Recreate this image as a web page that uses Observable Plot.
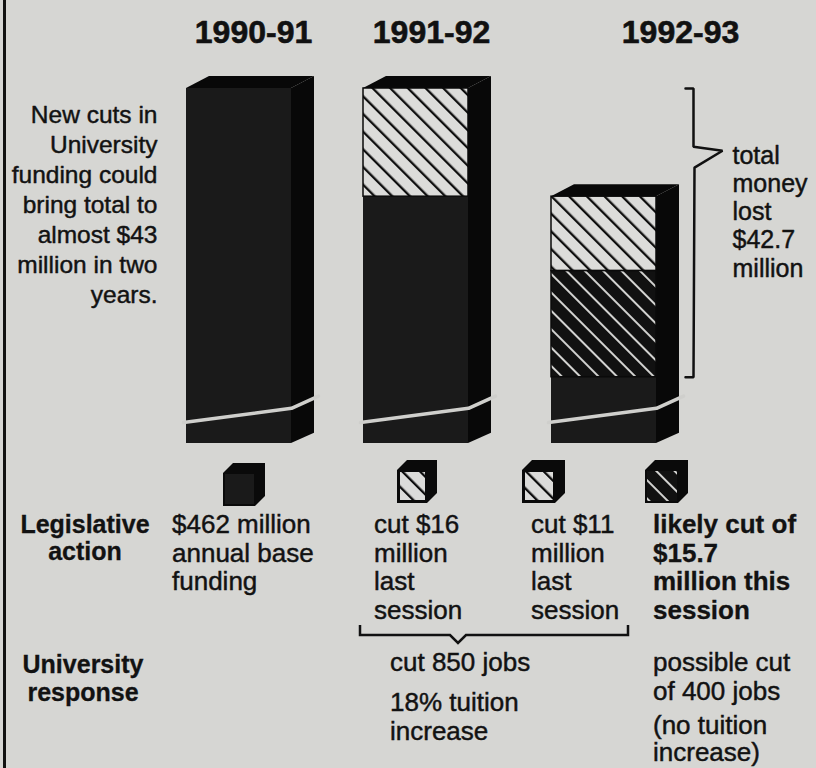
<!DOCTYPE html>
<html><head><meta charset="utf-8">
<script src="https://cdn.jsdelivr.net/npm/d3@7"></script>
<script src="https://cdn.jsdelivr.net/npm/@observablehq/plot@0.6"></script>
<style>
html,body{margin:0;padding:0;background:#d6d6d3;}
#page{position:relative;width:816px;height:768px;overflow:hidden;background:#d6d6d3;font-family:"Liberation Sans",Arial,Helvetica,sans-serif;color:#121212;}
#border{position:absolute;left:3px;top:0;width:3px;height:768px;background:#111;}
#chart{position:absolute;left:0;top:0;}
#overlay{position:absolute;left:0;top:0;}
.t{position:absolute;white-space:pre;font-size:26px;line-height:28.5px;-webkit-text-stroke:0.45px #121212;}
.b{font-weight:bold;-webkit-text-stroke:0.3px #121212;}
</style></head><body>
<div id="page"><div id="border"></div><div id="chart"></div></div>
<script>
// ---------- data ----------
const years = ["1990-91", "1991-92", "1992-93"];
const fundingBefore = [462, 462, 446];      // $ million, level before the cuts shown in the bar
const cutLastSession = [0, 16, 11];         // $ million cut last session
const cutLikely = [0, 0, 15.7];             // $ million likely cut this session
const totalLost = 42.7;                     // $ million
const noteLines = ["New cuts in", "University", "funding could", "bring total to", "almost $43", "million in two", "years."];
const braceLines = ["total", "money", "lost", "$42.7", "million"];
const rowLabels = ["Legislative\naction", "University\nresponse"];
const legendKinds = ["base", "last", "last", "likely"];
const legendText = ["$462 million\nannual base\nfunding", "cut $16\nmillion\nlast\nsession", "cut $11\nmillion\nlast\nsession", "likely cut of\n$15.7\nmillion this\nsession"];
const responseText = ["cut 850 jobs", "18% tuition\nincrease", "possible cut\nof 400 jobs", "(no tuition\nincrease)"];

// ---------- layout ----------
const FONT = "Liberation Sans, Arial, Helvetica, sans-serif";
const yDomain = [409.5, 462];
const yRange = [443, 88];
const k = (yRange[0] - yRange[1]) / (yDomain[1] - yDomain[0]);
const depthX = 23, depthY = 12 / k;
const barLeft = [186, 363, 551], barW = 105;
const headerX = [253, 431, 680];
const yLo = yDomain[0];

const bars = years.map((yr, i) => ({yr, i, left: barLeft[i], right: barLeft[i] + barW, top: fundingBefore[i],
  remaining: fundingBefore[i] - cutLastSession[i] - cutLikely[i]}));
const segments = [];
bars.forEach(b => {
  segments.push({...b, kind: "base", y1: yLo, y2: b.remaining});
  if (cutLikely[b.i] > 0) segments.push({...b, kind: "likely", y1: b.remaining, y2: b.remaining + cutLikely[b.i]});
  if (cutLastSession[b.i] > 0) segments.push({...b, kind: "last", y1: b.remaining + cutLikely[b.i], y2: b.top});
});
const sidePts = bars.flatMap(b => [
  {i: b.i, x: b.right, y1: yLo, y2: b.top},
  {i: b.i, x: b.right + depthX, y1: yLo + depthY * 0.85, y2: b.top + depthY}]);
const topPts = bars.flatMap(b => [
  {i: b.i, y: b.top, x1: b.left, x2: b.right},
  {i: b.i, y: b.top + depthY, x1: b.left + depthX, x2: b.right + depthX}]);
const breakPts = bars.flatMap(b => [
  {i: b.i, x: b.left - 3, y: yLo + 3.1},
  {i: b.i, x: b.right, y: yLo + 5.2},
  {i: b.i, x: b.right + depthX + 4, y: yLo + 7.0}]);
const bTop = fundingBefore[0], bBot = fundingBefore[0] - totalLost;
const bracePts = [
  {x: 685, y: bTop}, {x: 693, y: bTop}, {x: 693, y: bTop - 8.6}, {x: 722, y: bTop - 9.2},
  {x: 694, y: bTop - 11.7}, {x: 693, y: bBot}, {x: 685, y: bBot}];

function addPatterns(defs, prefix) {
  const p1 = defs.append("pattern").attr("id", prefix + "Light").attr("patternUnits", "userSpaceOnUse")
    .attr("width", 12.5).attr("height", 12.5).attr("patternTransform", "rotate(-45)");
  p1.append("rect").attr("width", 12.5).attr("height", 12.5).attr("fill", "#dcdcda");
  p1.append("rect").attr("width", 2.3).attr("height", 12.5).attr("fill", "#0d0d0d");
  const p2 = defs.append("pattern").attr("id", prefix + "Dark").attr("patternUnits", "userSpaceOnUse")
    .attr("width", 13).attr("height", 13).attr("patternTransform", "rotate(-45)");
  p2.append("rect").attr("width", 13).attr("height", 13).attr("fill", "#111");
  p2.append("rect").attr("width", 2).attr("height", 13).attr("fill", "#d2d2d0");
}

const chart = Plot.plot({
  width: 816, height: 460, margin: 0,
  style: {background: "transparent", overflow: "visible"},
  x: {domain: [0, 816], range: [0, 816], axis: null},
  y: {domain: yDomain, range: yRange, axis: null},
  marks: [
    () => { const d = d3.create("svg:defs"); addPatterns(d, "hatch"); return d.node(); },
    Plot.areaY(sidePts, {x: "x", y1: "y1", y2: "y2", z: "i", fill: "#080808"}),
    Plot.areaX(topPts, {y: "y", x1: "x1", x2: "x2", z: "i", fill: "#080808"}),
    Plot.rect(segments.filter(s => s.kind === "base"), {x1: "left", x2: "right", y1: "y1", y2: "y2", fill: "#1a1a1a"}),
    Plot.rect(segments.filter(s => s.kind === "last"), {x1: "left", x2: "right", y1: "y1", y2: "y2", fill: "url(#hatchLight)", stroke: "#0a0a0a", strokeWidth: 1.5}),
    Plot.rect(segments.filter(s => s.kind === "likely"), {x1: "left", x2: "right", y1: "y1", y2: "y2", fill: "url(#hatchDark)", stroke: "#0a0a0a", strokeWidth: 1.5}),
    Plot.line(breakPts, {x: "x", y: "y", z: "i", stroke: "#cfcfcc", strokeWidth: 3.5}),
    Plot.line(bracePts, {x: "x", y: "y", stroke: "#111", strokeWidth: 2.5, strokeLinejoin: "miter"}),
    Plot.text(years, {x: (d, i) => headerX[i], text: d => d, frameAnchor: "top", lineAnchor: "top", dy: 20,
      fontSize: 32, fontWeight: "bold", fontFamily: FONT, fill: "#111", stroke: "#111", strokeWidth: 0.6}),
    Plot.text([noteLines.join("\n")], {x: () => 157, text: d => d, frameAnchor: "top", lineAnchor: "top", dy: 101,
      textAnchor: "end", fontSize: 24.5, lineHeight: 30 / 24.5, fontFamily: FONT, fill: "#121212", stroke: "#121212", strokeWidth: 0.45}),
    Plot.text([braceLines.join("\n")], {x: () => 732, text: d => d, frameAnchor: "top", lineAnchor: "top", dy: 143,
      textAnchor: "start", fontSize: 25, lineHeight: 28.25 / 25, fontFamily: FONT, fill: "#121212", stroke: "#121212", strokeWidth: 0.45})
  ]
});
document.getElementById("chart").appendChild(chart);

// ---------- lower panel: legend keys, labels ----------
const page = d3.select("#page");
const ov = page.append("svg").attr("id", "overlay").attr("width", 816).attr("height", 768);
addPatterns(ov.append("defs"), "key");
const iconBoxes = [[223, 463, 42, 43], [397, 460, 40, 43], [522, 460, 43, 43], [645, 460, 43, 43]];
legendKinds.forEach((kind, i) => {
  const [x0, y0, w, h] = iconBoxes[i], c = 10, x1 = x0 + w, y1 = y0 + h;
  ov.append("polygon").attr("points", [[x0 + c, y0], [x1, y0], [x1, y1 - c], [x1 - c, y1], [x0, y1], [x0, y0 + c]].join(" "))
    .attr("fill", "#0a0a0a");
  const fx = x0 + 2, fy = y0 + c + 1, fw = w - c - 3, fh = h - c - 3;
  const fill = kind === "base" ? "#1a1a1a" : kind === "last" ? "url(#keyLight)" : "url(#keyDark)";
  ov.append("rect").attr("x", fx).attr("y", fy).attr("width", fw).attr("height", fh).attr("fill", fill)
    .attr("stroke", kind === "last" ? "#0a0a0a" : "none").attr("stroke-width", 2);
});
ov.append("polyline").attr("points", "360,625 360,635 450,635 458,643 466,635 628,635 628,625")
  .attr("fill", "none").attr("stroke", "#111").attr("stroke-width", 2.5);

function label(text, left, top, opts = {}) {
  const d = page.append("div").attr("class", "t" + (opts.bold ? " b" : "")).text(text)
    .style("left", left + "px").style("top", top + "px");
  if (opts.size) d.style("font-size", opts.size + "px");
  if (opts.lh) d.style("line-height", opts.lh + "px");
  if (opts.center) d.style("width", opts.center + "px").style("text-align", "center");
}
label(rowLabels[0], 5, 510.6, {bold: true, size: 25, lh: 27.5, center: 160});
label(rowLabels[1], 3, 650.3, {bold: true, size: 25, lh: 28, center: 160});
label(legendText[0], 172, 510);
label(legendText[1], 374, 510);
label(legendText[2], 531, 510);
label(legendText[3], 653, 510, {bold: true, size: 26});
label(responseText[0], 390, 648);
label(responseText[1], 390, 688);
label(responseText[2], 653, 648);
label(responseText[3], 653, 712, {lh: 27});
</script></body></html>
